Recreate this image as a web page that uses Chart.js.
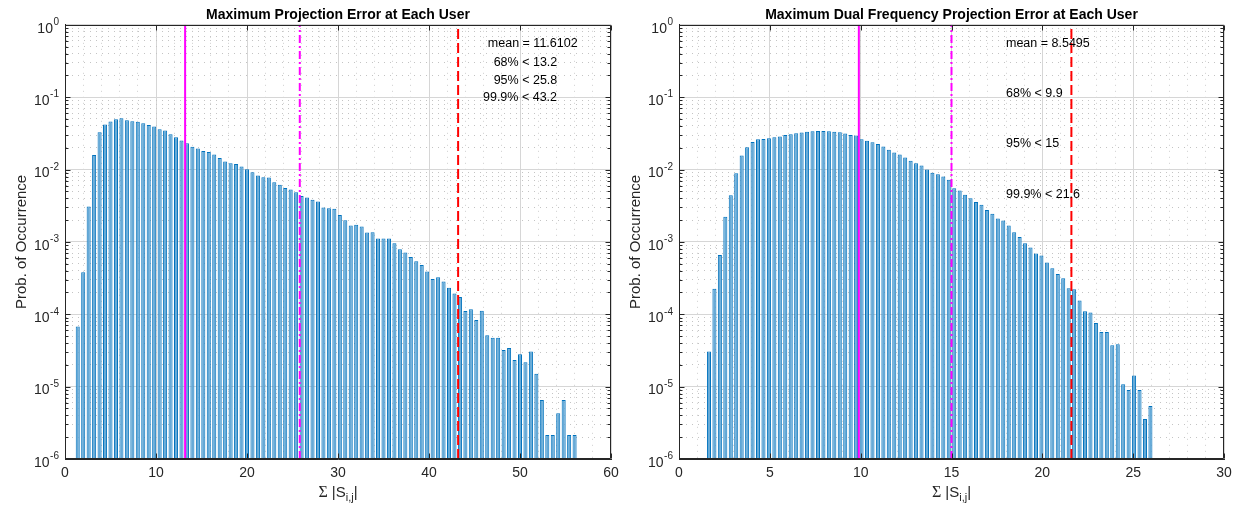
<!DOCTYPE html>
<html>
<head>
<meta charset="utf-8">
<script src="https://cdn.jsdelivr.net/npm/chart.js@4/dist/chart.umd.min.js"></script>
<style>
  html, body { margin: 0; padding: 0; background: #ffffff; }
  #wrap { position: relative; width: 1241px; height: 512px; overflow: hidden; }
  canvas { position: absolute; top: 0; }
</style>
</head>
<body>
<div id="wrap">
  <canvas id="c1" width="625" height="512" style="left:0px"></canvas>
  <canvas id="c2" width="627" height="512" style="left:614px"></canvas>
</div>
<script>
// ---------------- data ----------------
const titles = ['Maximum Projection Error at Each User',
                'Maximum Dual Frequency Projection Error at Each User'];
const yLabel = 'Prob. of Occurrence';

// left histogram: bin width 0.6, first bin centre 1.4
const leftBinWidth = 0.6;
const leftFirstCenter = 1.4;
const leftProb = [
  6.75e-5,
  3.81e-4, 3.08e-3, 1.59e-2, 3.28e-2, 4.19e-2, 4.61e-2, 4.96e-2, 5.12e-2, 4.81e-2, 4.66e-2,
  4.56e-2, 4.37e-2, 4.14e-2, 3.93e-2, 3.61e-2, 3.46e-2, 3.08e-2, 2.80e-2, 2.52e-2, 2.31e-2,
  2.06e-2, 1.95e-2, 1.81e-2, 1.75e-2, 1.61e-2, 1.44e-2, 1.29e-2, 1.22e-2, 1.19e-2, 1.10e-2,
  1.01e-2, 9.19e-3, 8.26e-3, 7.83e-3, 7.74e-3, 6.68e-3, 6.14e-3, 5.57e-3, 5.28e-3, 4.86e-3,
  4.32e-3, 4.10e-3, 3.81e-3, 3.61e-3, 2.98e-3, 2.92e-3, 2.86e-3, 2.36e-3, 1.99e-3, 1.68e-3,
  1.72e-3, 1.63e-3, 1.35e-3, 1.36e-3, 1.11e-3, 1.11e-3, 1.11e-3, 9.59e-4, 7.92e-4, 7.12e-4,
  6.20e-4, 5.40e-4, 4.81e-4, 3.89e-4, 3.08e-4, 3.25e-4, 2.83e-4, 2.33e-4, 1.93e-4, 1.73e-4,
  1.11e-4, 1.17e-4, 8.34e-5, 1.12e-4, 5.13e-5, 4.75e-5, 4.75e-5, 3.21e-5, 3.42e-5, 2.34e-5,
  2.80e-5, 2.17e-5, 3.05e-5, 1.51e-5, 6.53e-6, 2.15e-6, 2.15e-6, 4.28e-6, 6.53e-6, 2.15e-6, 2.15e-6
];

// right histogram: bin width 0.3, first bin centre 1.65
const rightBinWidth = 0.3;
const rightFirstCenter = 1.65;
const rightProb = [
  3.05e-5, 2.26e-4, 6.61e-4, 2.22e-3, 4.42e-3, 8.90e-3, 1.56e-2, 2.03e-2, 2.41e-2, 2.62e-2,
  2.65e-2, 2.71e-2, 2.80e-2, 2.86e-2, 3.01e-2, 3.08e-2, 3.18e-2, 3.25e-2, 3.32e-2, 3.39e-2, 3.42e-2,
  3.40e-2, 3.38e-2, 3.32e-2, 3.27e-2, 3.15e-2, 3.01e-2, 2.95e-2, 2.62e-2, 2.49e-2, 2.39e-2,
  2.26e-2, 2.08e-2, 1.87e-2, 1.72e-2, 1.61e-2, 1.47e-2, 1.32e-2, 1.22e-2, 1.14e-2, 1.00e-2,
  9.00e-3, 8.62e-3, 8.00e-3, 7.20e-3, 5.52e-3, 5.13e-3, 4.47e-3, 4.02e-3, 3.57e-3, 3.25e-3,
  2.77e-3, 2.44e-3, 2.10e-3, 1.97e-3, 1.68e-3, 1.36e-3, 1.17e-3, 9.59e-4, 8.34e-4, 6.89e-4, 6.47e-4,
  5.18e-4, 4.32e-4, 3.61e-4, 3.15e-4, 2.29e-4, 2.21e-4, 1.55e-4, 1.10e-4, 1.06e-4, 7.59e-5,
  5.70e-5, 5.70e-5, 3.72e-5, 3.85e-5, 1.08e-5, 8.98e-6, 1.42e-5, 8.98e-6, 3.57e-6, 5.40e-6
];

// vertical marker lines: 68 %, 95 %, 99.9 % limits
const leftMarkers  = [13.2, 25.8, 43.2];
const rightMarkers = [9.9, 15, 21.6];

const leftNotes  = ['mean = 11.6102', '68% < 13.2', '95% < 25.8', '99.9% < 43.2'];
const rightNotes = ['mean = 8.5495', '68% < 9.9', '95% < 15', '99.9% < 21.6'];

const leftXTicks  = [0, 10, 20, 30, 40, 50, 60];
const rightXTicks = [0, 5, 10, 15, 20, 25, 30];
const yDecades = [-6, -5, -4, -3, -2, -1, 0];

// ---------------- helpers ----------------
const SANS = '"Liberation Sans", Arial, Helvetica, sans-serif';
const AXIS_COLOR = '#262626';
function isMajorLog(v) { const l = Math.log10(v); return Math.abs(l - Math.round(l)) < 1e-6; }

function yTickValues() {
  const out = [];
  for (let i = 0; i < yDecades.length; i++) {
    const d = yDecades[i];
    if (i === yDecades.length - 1) { out.push(Math.pow(10, d)); break; }
    for (let m = 1; m <= 9; m++) out.push(m * Math.pow(10, d));
  }
  return out;
}

const markerStyles = [
  { color: '#ff00ff', dash: [] },
  { color: '#ff00ff', dash: [8, 3, 2, 3] },
  { color: '#ff0000', dash: [10, 4] }
];

function makeDecor(cfg) {
  return {
    id: 'decor',
    afterDraw(chart) {
      const { ctx, chartArea: a, scales: { x, y } } = chart;
      ctx.save();
      ctx.strokeStyle = AXIS_COLOR;
      ctx.lineWidth = 1;
      const L = Math.round(a.left) + 0.5, R = Math.round(a.right) - 0.5;
      const T = Math.round(a.top) + 0.5, B = Math.round(a.bottom) - 0.5;
      ctx.beginPath();
      ctx.rect(L, T, R - L, B - T);
      y.ticks.forEach(t => {
        const p = Math.round(y.getPixelForValue(t.value)) + 0.5;
        const len = isMajorLog(t.value) ? 5 : 3;
        ctx.moveTo(L, p); ctx.lineTo(L + len, p);
        ctx.moveTo(R, p); ctx.lineTo(R - len, p);
      });
      cfg.xMajors.forEach(v => {
        const p = Math.round(x.getPixelForValue(v)) + 0.5;
        ctx.moveTo(p, B); ctx.lineTo(p, B - 5);
        ctx.moveTo(p, T); ctx.lineTo(p, T + 5);
      });
      ctx.stroke();

      // y tick labels 10^n with raised exponent
      ctx.fillStyle = AXIS_COLOR;
      ctx.textBaseline = 'middle';
      yDecades.forEach(d => {
        const p = y.getPixelForValue(Math.pow(10, d));
        const exp = String(d);
        ctx.font = '10px ' + SANS;
        const ew = ctx.measureText(exp).width;
        ctx.textAlign = 'right';
        const right = a.left - 6;
        ctx.fillText(exp, right, p - 2.5);
        ctx.font = '14px ' + SANS;
        ctx.fillText('10', right - ew - 0.5, p + 4);
      });

      // annotation texts
      ctx.fillStyle = '#000000';
      ctx.font = '12.5px ' + SANS;
      ctx.textBaseline = 'middle';
      cfg.notes.forEach((txt, i) => {
        const pos = cfg.notePos[i];
        ctx.textAlign = cfg.noteAlign;
        ctx.fillText(txt, x.getPixelForValue(pos[0]), y.getPixelForValue(pos[1]));
      });

      // x axis label  Σ |S_{i,j}|
      const parts = [
        { t: '\u03A3', f: '16px "Liberation Serif", "DejaVu Serif", serif', dy: 0 },
        { t: ' |S', f: '15px ' + SANS, dy: 0 },
        { t: 'i,j', f: '11px ' + SANS, dy: 4 },
        { t: '|', f: '15px ' + SANS, dy: 0 }
      ];
      let w = 0;
      parts.forEach(p => { ctx.font = p.f; p.w = ctx.measureText(p.t).width; w += p.w; });
      let cx = (a.left + a.right) / 2 - w / 2;
      ctx.fillStyle = AXIS_COLOR;
      ctx.textAlign = 'left';
      ctx.textBaseline = 'alphabetic';
      parts.forEach(p => { ctx.font = p.f; ctx.fillText(p.t, cx, 497 + p.dy); cx += p.w; });
      ctx.restore();
    }
  };
}

function buildChart(canvasId, opt) {
  const bars = opt.prob.map((v, i) => ({ x: opt.firstCenter + i * opt.binWidth, y: v }));
  const lineSets = opt.markers.map((m, i) => ({
    type: 'line',
    data: [{ x: m, y: Math.pow(10, yDecades[0]) }, { x: m, y: Math.pow(10, yDecades[yDecades.length - 1]) }],
    borderColor: markerStyles[i].color,
    borderDash: markerStyles[i].dash,
    borderWidth: 2,
    pointRadius: 0,
    fill: false,
    tension: 0,
    order: 0
  }));
  const xMin = opt.xTicks[0], xMax = opt.xTicks[opt.xTicks.length - 1];
  const isXMajor = v => opt.xTicks.some(t => Math.abs(t - v) < 1e-9);

  return new Chart(document.getElementById(canvasId), {
    type: 'bar',
    data: {
      datasets: [
        {
          type: 'bar',
          data: bars,
          backgroundColor: '#66aad7',
          borderColor: '#0072bd',
          borderWidth: 1,
          borderSkipped: 'start',
          barPercentage: 0.74,
          categoryPercentage: 1.0,
          order: 1
        },
        ...lineSets
      ]
    },
    options: {
      responsive: false,
      animation: false,
      devicePixelRatio: 1,
      layout: { padding: { left: 0, right: opt.padRight, top: 0, bottom: 0 } },
      plugins: {
        legend: { display: false },
        tooltip: { enabled: false },
        title: {
          display: true,
          text: opt.title,
          fullSize: false,
          color: '#000000',
          font: { family: SANS, size: 14, weight: 'bold' },
          padding: { top: 7, bottom: 1 }
        }
      },
      scales: {
        x: {
          type: 'linear',
          min: xMin, max: xMax,
          offset: false,
          afterFit: s => { s.height = 53; },
          afterBuildTicks: s => {
            const arr = [];
            for (let v = xMin; v <= xMax + 1e-9; v += opt.xMinorStep) arr.push({ value: Math.round(v * 1000) / 1000 });
            s.ticks = arr;
          },
          ticks: {
            autoSkip: false, maxRotation: 0, padding: 6,
            color: AXIS_COLOR,
            font: { family: SANS, size: 14 },
            callback: v => isXMajor(v) ? String(v) : ''
          },
          grid: {
            offset: false,
            drawTicks: false,
            lineWidth: 1,
            color: c => (c.tick && isXMajor(c.tick.value)) ? '#d6d6d6' : '#cfcfcf'
          },
          border: {
            display: true, color: AXIS_COLOR, width: 1,
            dash: c => (c.tick && !isXMajor(c.tick.value)) ? [1, 5] : []
          }
        },
        y: {
          type: 'logarithmic',
          min: Math.pow(10, yDecades[0]),
          max: Math.pow(10, yDecades[yDecades.length - 1]),
          afterFit: s => { s.width = 65; },
          afterBuildTicks: s => { s.ticks = yTickValues().map(v => ({ value: v })); },
          ticks: {
            autoSkip: false, padding: 5,
            color: AXIS_COLOR,
            font: { family: SANS, size: 14 },
            callback: () => ''
          },
          grid: {
            drawTicks: false,
            lineWidth: 1,
            color: c => (c.tick && isMajorLog(c.tick.value)) ? '#d6d6d6' : '#c4c4c4'
          },
          border: {
            display: true, color: AXIS_COLOR, width: 1,
            dash: c => (c.tick && !isMajorLog(c.tick.value)) ? [1, 5] : []
          },
          title: {
            display: true,
            text: yLabel,
            color: AXIS_COLOR,
            font: { family: SANS, size: 15 },
            padding: { top: 13, bottom: 0 }
          }
        }
      }
    },
    plugins: [makeDecor({
      xMajors: opt.xTicks,
      notes: opt.notes,
      notePos: opt.notePos,
      noteAlign: opt.noteAlign
    })]
  });
}

buildChart('c1', {
  title: titles[0],
  prob: leftProb, binWidth: leftBinWidth, firstCenter: leftFirstCenter,
  markers: leftMarkers, xTicks: leftXTicks, xMinorStep: 2, padRight: 14,
  notes: leftNotes,
  notePos: [[51.4, 0.558], [50.6, 0.301], [50.6, 0.170], [50.0, 0.100]],
  noteAlign: 'center'
});

buildChart('c2', {
  title: titles[1],
  prob: rightProb, binWidth: rightBinWidth, firstCenter: rightFirstCenter,
  markers: rightMarkers, xTicks: rightXTicks, xMinorStep: 1, padRight: 17,
  notes: rightNotes,
  notePos: [[18.0, 0.558], [18.0, 0.1137], [18.0, 0.0226], [18.0, 0.00456]],
  noteAlign: 'left'
});
</script>
</body>
</html>
